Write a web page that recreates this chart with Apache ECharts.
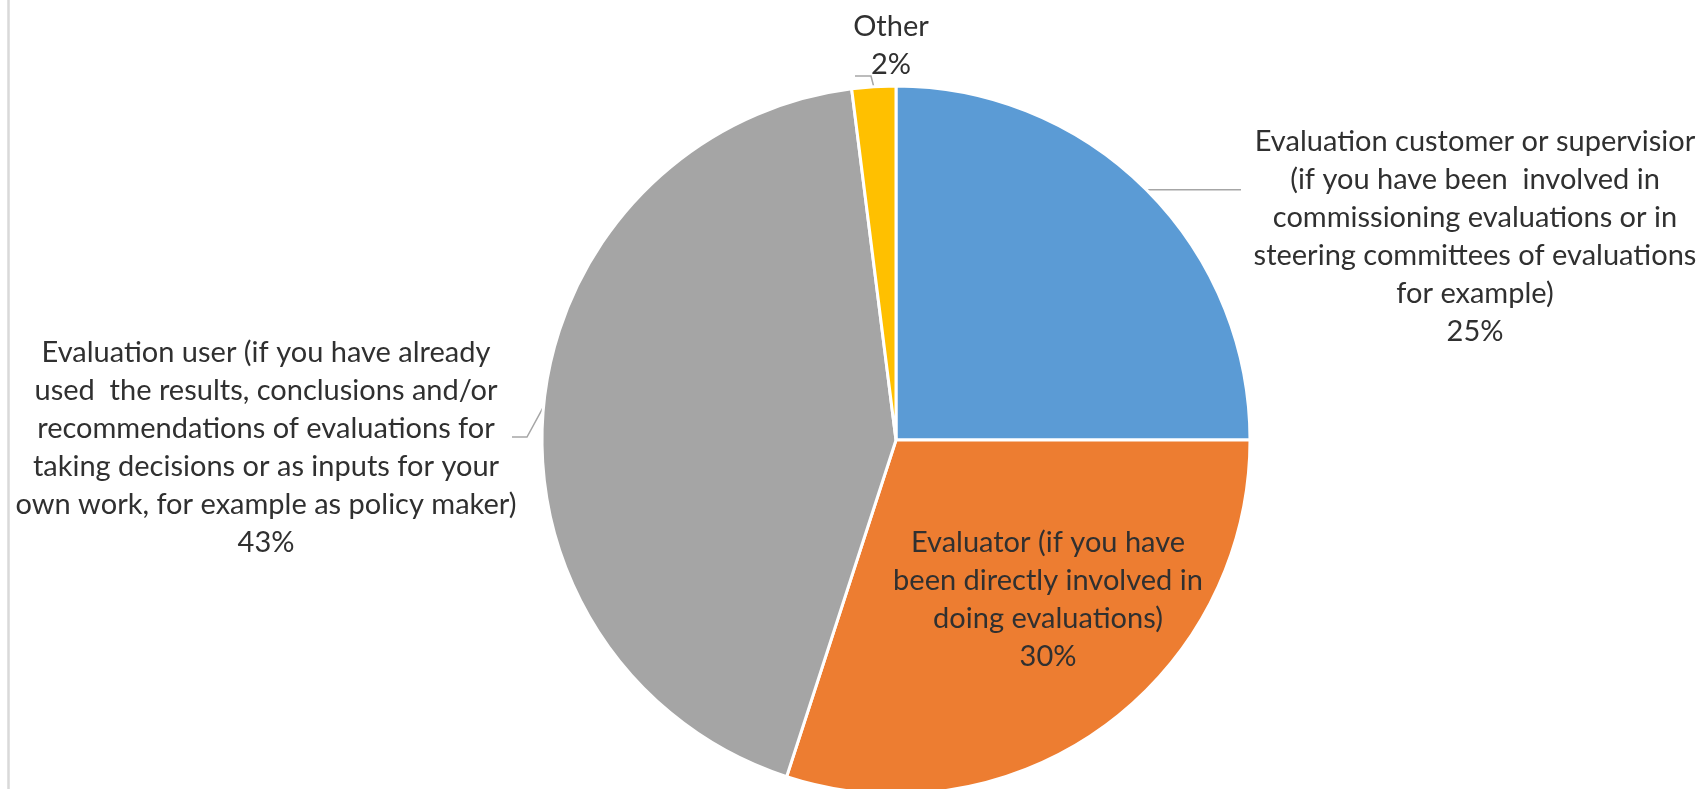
<!DOCTYPE html>
<html>
<head>
<meta charset="utf-8">
<script src="https://cdn.jsdelivr.net/npm/echarts@6/dist/echarts.min.js"></script>
<style>
  html, body { margin: 0; padding: 0; background: #ffffff; }
  #chart { width: 1706px; height: 789px; }
</style>
</head>
<body>
<div id="chart"></div>
<script>
// Respondent roles (slice names, wrapped the way they are printed)
const categories = [
  'Evaluation customer or supervisior\n(if you have been  involved in\ncommissioning evaluations or in\nsteering committees of evaluations\nfor example)',
  'Evaluator (if you have\nbeen directly involved in\ndoing evaluations)',
  'Evaluation user (if you have already\nused  the results, conclusions and/or\nrecommendations of evaluations for\ntaking decisions or as inputs for your\nown work, for example as policy maker)',
  'Other'
];
// Share of respondents, in percent
const shares = [25, 30, 43, 2];
const sliceColors = ['#5B9BD5', '#ED7D31', '#A5A5A5', '#FFC000'];

// Pie geometry
const CX = 896, CY = 440, R = 354;

// Where each label block sits, and the bend/end of its leader line
const labelSpots = [
  { x: 1475, y: 237, bend: [1241, null], end: [1241, null] },
  { x: 1048, y: 600 },
  { x: 266, y: 448, bend: [527, 437], end: [512, 437] },
  { x: 891, y: 46, bend: [871, 76], end: [855, 76] }
];

const total = shares.reduce((a, b) => a + b, 0);
function edgePoint(i) {
  let before = 0;
  for (let k = 0; k < i; k++) before += shares[k];
  const a = (before + shares[i] / 2) / total * Math.PI * 2;
  return [CX + R * Math.sin(a), CY - R * Math.cos(a)];
}

const chart = echarts.init(document.getElementById('chart'), null, { renderer: 'canvas' });

chart.setOption({
  animation: false,
  backgroundColor: '#ffffff',
  graphic: [{
    type: 'line',
    shape: { x1: 8.5, y1: 0, x2: 8.5, y2: 789 },
    style: { stroke: '#D9D9D9', lineWidth: 2.5 },
    silent: true
  }],
  series: [{
    type: 'pie',
    center: [CX, CY],
    radius: R,
    startAngle: 90,
    clockwise: true,
    avoidLabelOverlap: false,
    percentPrecision: 0,
    emphasis: { disabled: true },
    itemStyle: { borderColor: '#ffffff', borderWidth: 3 },
    label: {
      show: true,
      position: 'outside',
      formatter: '{b}\n{d}%',
      fontFamily: 'Lato, "Liberation Sans", sans-serif',
      fontSize: 29,
      lineHeight: 38,
      color: '#303030',
      align: 'center'
    },
    labelLine: {
      show: true,
      lineStyle: { color: '#A6A6A6', width: 1.5 }
    },
    labelLayout: function (params) {
      const spot = labelSpots[params.dataIndex];
      const out = { x: spot.x, y: spot.y, align: 'center', verticalAlign: 'middle' };
      if (spot.end) {
        const s = edgePoint(params.dataIndex);
        const bend = [spot.bend[0], spot.bend[1] == null ? s[1] : spot.bend[1]];
        const end = [spot.end[0], spot.end[1] == null ? s[1] : spot.end[1]];
        out.labelLinePoints = [s, bend, end];
      }
      return out;
    },
    data: categories.map((name, i) => ({
      name: name,
      value: shares[i],
      itemStyle: { color: sliceColors[i] },
      label: i === 1 ? { position: 'inside' } : undefined,
      labelLine: i === 1 ? { show: false } : undefined
    }))
  }]
});
</script>
</body>
</html>
